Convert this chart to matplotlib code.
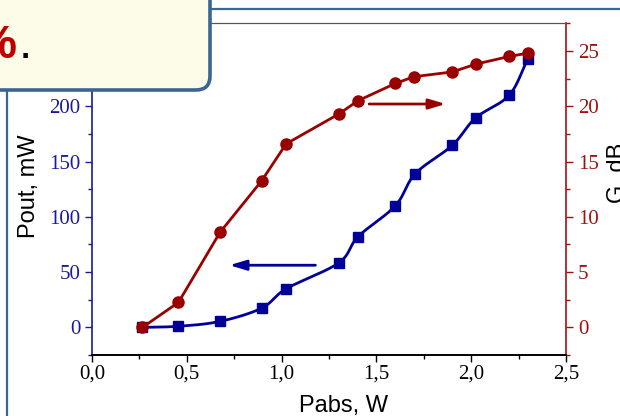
import matplotlib
matplotlib.use("Agg")
import matplotlib.pyplot as plt
import numpy as np
from matplotlib.patches import FancyBboxPatch
from matplotlib.lines import Line2D
from matplotlib.ticker import MultipleLocator, FuncFormatter

# data
pabs = [0.266, 0.456, 0.675, 0.895, 1.024, 1.302, 1.403, 1.60, 1.705, 1.90, 2.023, 2.20, 2.298]
pout = [0, 1, 5.4, 17.4, 34.9, 58.4, 82, 110, 139, 164.6, 189.4, 209.9, 242.6]
pabs_g = [0.266, 0.456, 0.675, 0.895, 1.024, 1.302, 1.403, 1.60, 1.698, 1.90, 2.023, 2.20, 2.298]
gain = [0, 2.26, 8.59, 13.26, 16.6, 19.3, 20.5, 22.06, 22.67, 23.1, 23.8, 24.5, 24.8]

blue = '#000099'
red = '#990000'
frame = '#3c6595'
serif = 'Liberation Serif'
sans = 'Liberation Sans'


def catmull_rom(x, y, n=20):
    # smooth curve through the points, like the Origin spline line
    x = np.asarray(x, float)
    y = np.asarray(y, float)
    px = np.concatenate([[2 * x[0] - x[1]], x, [2 * x[-1] - x[-2]]])
    py = np.concatenate([[2 * y[0] - y[1]], y, [2 * y[-1] - y[-2]]])
    xs, ys = [], []
    t = np.linspace(0, 1, n)
    for i in range(1, len(px) - 2):
        for p, out in ((px, xs), (py, ys)):
            p0, p1, p2, p3 = p[i - 1], p[i], p[i + 1], p[i + 2]
            out.extend(0.5 * (2 * p1 + (-p0 + p2) * t
                              + (2 * p0 - 5 * p1 + 4 * p2 - p3) * t ** 2
                              + (-p0 + 3 * p1 - 3 * p2 + p3) * t ** 3))
    return np.array(xs), np.array(ys)


fig = plt.figure(figsize=(6.2, 4.16), dpi=100)
ax = fig.add_axes([0.1484, 0.1466, 0.7645, 0.7974])
ax2 = ax.twinx()

sx, sy = catmull_rom(pabs, pout)
ax.plot(sx, sy, color=blue, lw=2, zorder=2)
ax.plot(pabs, pout, 's', color=blue, ms=7, zorder=3)
ax2.plot(pabs_g, gain, '-o', color=red, lw=2, ms=8, zorder=3)

ax.set_xlim(0, 2.5)
ax.set_ylim(-25, 275)
ax2.set_ylim(-2.5, 27.5)

ax.xaxis.set_major_locator(MultipleLocator(0.5))
ax.xaxis.set_minor_locator(MultipleLocator(0.25))
ax.xaxis.set_major_formatter(FuncFormatter(lambda v, p: f"{v:.1f}".replace('.', ',')))
ax.yaxis.set_major_locator(MultipleLocator(50))
ax.yaxis.set_minor_locator(MultipleLocator(25))
ax.set_yticks([0, 50, 100, 150, 200])
ax2.set_yticks([0, 5, 10, 15, 20, 25])
ax2.yaxis.set_minor_locator(MultipleLocator(2.5))

ax.tick_params(axis='x', which='major', length=5, width=1, pad=2, labelsize=15)
ax.tick_params(axis='x', which='minor', length=3, width=1)
ax.tick_params(axis='y', which='major', length=5, width=1, pad=3.5, labelsize=15,
               colors='#1a1a9a')
ax.tick_params(axis='y', which='minor', length=3, width=1, colors='#1a1a9a')
ax2.tick_params(axis='y', which='major', length=5, width=1, pad=3.5, labelsize=15,
                colors='#a01010')
ax2.tick_params(axis='y', which='minor', length=3, width=1, colors='#a01010')
for lab in ax.get_xticklabels() + ax.get_yticklabels() + ax2.get_yticklabels():
    lab.set_fontfamily(serif)

ax.spines['left'].set_color('#1a1a9a')
ax2.spines['left'].set_visible(False)
ax2.spines['right'].set_color('#a01010')
ax.spines['top'].set_color('#555555')
ax2.spines['top'].set_color('#555555')
ax.spines['right'].set_visible(False)
for s in ['left', 'right', 'bottom']:
    ax.spines[s].set_linewidth(1.2)
    ax2.spines[s].set_linewidth(1.2)

ax.set_xlabel('Pabs, W', family=sans, fontsize=17)
ax.set_ylabel('Pout, mW', family=sans, fontsize=17)
ax2.set_ylabel('G, dB', family=sans, fontsize=17)
ax.xaxis.set_label_coords(0.53, -0.12)
ax.yaxis.set_label_coords(-0.11, 0.51)
ax2.yaxis.set_label_coords(1.087, 0.55)

# direction arrows
ax2.annotate('', xy=(1.88, 20.2), xytext=(1.447, 20.2),
             arrowprops=dict(arrowstyle='-|>,head_length=1.0,head_width=0.3',
                             color=red, lw=2))
ax.annotate('', xy=(0.71, 56.2), xytext=(1.193, 56.2),
            arrowprops=dict(arrowstyle='-|>,head_length=1.0,head_width=0.3',
                            color=blue, lw=2))

# slide decorations around the cropped chart
fig.add_artist(Line2D([2.1, 6.3], [4.07, 4.07], transform=fig.dpi_scale_trans,
                      color=frame, lw=1.6, zorder=5))
fig.add_artist(Line2D([0.073, 0.073], [-0.1, 3.3], transform=fig.dpi_scale_trans,
                      color=frame, lw=1.6, zorder=5))
box = FancyBboxPatch((-0.3, 3.26), 2.40, 1.3, transform=fig.dpi_scale_trans,
                     boxstyle='round,pad=0,rounding_size=0.14',
                     facecolor='#fcfce9', edgecolor=frame, lw=2.6, zorder=6)
fig.add_artist(box)
fig.text(0.17, 3.58, '%', transform=fig.dpi_scale_trans, ha='right', va='baseline',
         color='#c00000', fontsize=34, fontweight='bold', family='Liberation Sans',
         zorder=7)
fig.text(0.19, 3.58, '.', transform=fig.dpi_scale_trans, ha='left', va='baseline',
         color='black', fontsize=34, family='Liberation Sans', zorder=7)

fig.savefig('out.png', dpi=100)
